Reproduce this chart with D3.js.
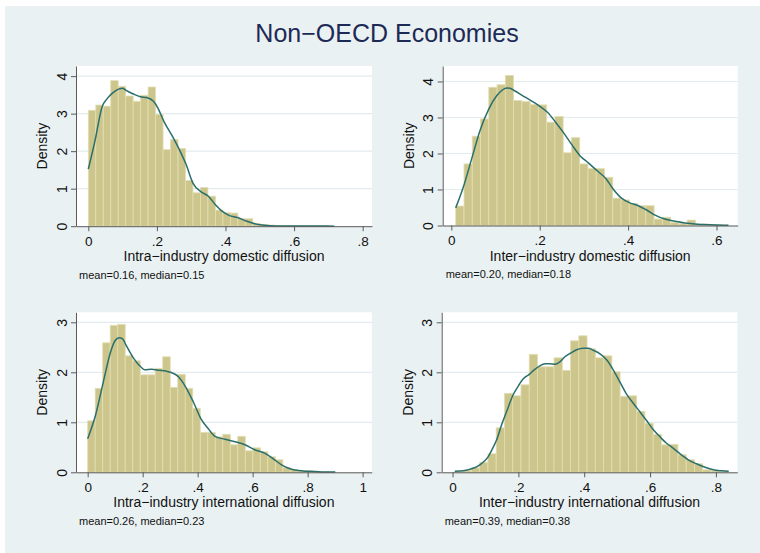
<!DOCTYPE html>
<html>
<head>
<meta charset="utf-8">
<script src="https://cdn.jsdelivr.net/npm/d3@7/dist/d3.min.js"></script>
<style>
  html, body { margin: 0; padding: 0; background: #ffffff; }
  svg { display: block; }
  text { font-family: "Liberation Sans", Arial, Helvetica, sans-serif; }
</style>
</head>
<body>
<svg id="chart" width="760" height="553"></svg>
<script>
// ---- Histogram densities (33 equal bins each) and kernel density curves ----

// Intra-industry domestic diffusion
const intraDomBinStart = 0.0;
const intraDomBinWidth = 0.0218;
const intraDomBars = [3.09, 3.23, 3.2, 3.88, 3.73, 3.47, 3.33, 3.49, 3.71, 2.98, 2.04, 2.31, 2.07,
  1.22, 0.89, 1.03, 0.8, 0.43, 0.36, 0.35, 0.2, 0.2, 0.07, 0.05, 0.03, 0.02, 0.015, 0.01, 0.01,
  0.008, 0.008, 0.006, 0.006];
const intraDomKdeX = [0, 0.02, 0.04, 0.055, 0.072, 0.09, 0.10, 0.11, 0.13, 0.152, 0.17, 0.19, 0.203,
  0.22, 0.245, 0.265, 0.285, 0.305, 0.328, 0.35, 0.37, 0.39, 0.41, 0.435, 0.46, 0.48, 0.50, 0.53,
  0.57, 0.62, 0.67, 0.717];
const intraDomKdeY = [1.52, 2.3, 3.18, 3.4, 3.56, 3.66, 3.68, 3.62, 3.53, 3.45, 3.43, 3.33, 3.15,
  2.8, 2.4, 2.05, 1.65, 1.15, 0.92, 0.8, 0.58, 0.4, 0.29, 0.23, 0.14, 0.08, 0.04, 0.015, 0.007,
  0.004, 0.003, 0.002];

// Inter-industry domestic diffusion
const interDomBinStart = 0.010;
const interDomBinWidth = 0.0187;
const interDomBars = [0.54, 1.71, 2.48, 2.96, 3.84, 3.91, 4.17, 3.47, 3.44, 3.36, 3.35, 2.87, 3.03,
  2.02, 2.44, 1.71, 1.58, 1.58, 1.34, 0.76, 0.71, 0.61, 0.55, 0.55, 0.18, 0.23, 0.08, 0.05, 0.15,
  0.04, 0.03, 0.02, 0.01];
const interDomKdeX = [0.010, 0.027, 0.046, 0.065, 0.085, 0.103, 0.114, 0.125, 0.133, 0.142, 0.161,
  0.180, 0.198, 0.217, 0.236, 0.255, 0.273, 0.291, 0.31, 0.33, 0.35, 0.367, 0.385, 0.404, 0.423,
  0.442, 0.461, 0.483, 0.506, 0.528, 0.551, 0.574, 0.60, 0.627];
const interDomKdeY = [0.49, 1.06, 1.85, 2.64, 3.24, 3.61, 3.75, 3.82, 3.81, 3.75, 3.61, 3.47, 3.33,
  3.15, 2.87, 2.56, 2.24, 1.94, 1.74, 1.52, 1.3, 1.0, 0.76, 0.63, 0.55, 0.43, 0.29, 0.18, 0.12,
  0.07, 0.045, 0.025, 0.012, 0.006];

// Intra-industry international diffusion
const intraIntBinStart = 0.0;
const intraIntBinWidth = 0.0273;
const intraIntBars = [1.03, 1.68, 2.59, 2.94, 2.96, 2.33, 2.23, 1.95, 1.95, 2.08, 2.31, 1.7, 1.96,
  1.68, 1.28, 0.8, 0.8, 0.71, 0.76, 0.55, 0.72, 0.43, 0.49, 0.41, 0.31, 0.25, 0.09, 0.05, 0.03,
  0.03, 0.02, 0.01, 0.01];
const intraIntKdeX = [0.0, 0.029, 0.057, 0.0835, 0.0993, 0.115, 0.127, 0.139, 0.166, 0.193, 0.208,
  0.232, 0.26, 0.287, 0.302, 0.330, 0.356, 0.384, 0.411, 0.439, 0.463, 0.499, 0.536, 0.572, 0.608,
  0.645, 0.675, 0.705, 0.736, 0.766, 0.802, 0.851, 0.9];
const intraIntKdeY = [0.67, 1.15, 1.81, 2.41, 2.63, 2.69, 2.67, 2.55, 2.29, 2.11, 2.05, 2.06, 2.04,
  2.02, 2.0, 1.91, 1.71, 1.41, 1.08, 0.87, 0.72, 0.66, 0.61, 0.55, 0.45, 0.38, 0.27, 0.15, 0.07,
  0.035, 0.02, 0.008, 0.004];

// Inter-industry international diffusion
const interIntBinStart = 0.007;
const interIntBinWidth = 0.0251;
const interIntBars = [0.02, 0.03, 0.09, 0.2, 0.37, 0.89, 1.58, 1.53, 1.75, 2.36, 2.11, 2.11, 2.29,
  2.04, 2.63, 2.73, 2.47, 2.29, 2.33, 2.01, 1.52, 1.53, 1.22, 0.98, 0.76, 0.55, 0.56, 0.35, 0.25,
  0.17, 0.05, 0.03, 0.02];
const interIntKdeX = [0.007, 0.032, 0.058, 0.083, 0.108, 0.124, 0.134, 0.149, 0.164, 0.184, 0.200,
  0.215, 0.233, 0.250, 0.265, 0.281, 0.296, 0.311, 0.326, 0.341, 0.360, 0.377, 0.397, 0.412, 0.428,
  0.448, 0.468, 0.488, 0.509, 0.529, 0.549, 0.569, 0.590, 0.610, 0.630, 0.650, 0.671, 0.691, 0.716,
  0.741, 0.767, 0.792, 0.818, 0.839];
const interIntKdeY = [0.02, 0.03, 0.07, 0.15, 0.31, 0.51, 0.65, 0.95, 1.21, 1.55, 1.73, 1.87, 1.96,
  2.06, 2.13, 2.17, 2.17, 2.16, 2.21, 2.31, 2.39, 2.45, 2.48, 2.48, 2.44, 2.37, 2.25, 2.05, 1.8,
  1.56, 1.38, 1.21, 1.03, 0.85, 0.71, 0.58, 0.48, 0.37, 0.25, 0.17, 0.1, 0.05, 0.03, 0.02];

// ---- Text and ticks ----
const chartTitle = "Non\u2212OECD Economies";
const xTitles = [
  "Intra\u2212industry domestic diffusion",
  "Inter\u2212industry domestic diffusion",
  "Intra\u2212industry international diffusion",
  "Inter\u2212industry international diffusion"
];
const notes = [
  "mean=0.16, median=0.15",
  "mean=0.20, median=0.18",
  "mean=0.26, median=0.23",
  "mean=0.39, median=0.38"
];
const xTicksIntraDom = [0, 0.2, 0.4, 0.6, 0.8];
const xTicksInterDom = [0, 0.2, 0.4, 0.6];
const xTicksIntraInt = [0, 0.2, 0.4, 0.6, 0.8, 1];
const xTicksInterInt = [0, 0.2, 0.4, 0.6, 0.8];
const yTicksDom = [0, 1, 2, 3, 4];
const yTicksInt = [0, 1, 2, 3];

// ---- Panel layout (plot regions in pixels, axis extents in data units) ----
const panels = [
  { bars: intraDomBars, start: intraDomBinStart, width: intraDomBinWidth,
    kx: intraDomKdeX, ky: intraDomKdeY, xTicks: xTicksIntraDom, yTicks: yTicksDom,
    title: xTitles[0], note: notes[0],
    box: { l: 76, r: 372, t: 66, b: 226.2 }, xDom: [-0.0359, 0.8272], yMax: 4.27 },
  { bars: interDomBars, start: interDomBinStart, width: interDomBinWidth,
    kx: interDomKdeX, ky: interDomKdeY, xTicks: xTicksInterDom, yTicks: yTicksDom,
    title: xTitles[1], note: notes[1],
    box: { l: 442.7, r: 737.7, t: 66, b: 225.5 }, xDom: [-0.0195, 0.648], yMax: 4.43 },
  { bars: intraIntBars, start: intraIntBinStart, width: intraIntBinWidth,
    kx: intraIntKdeX, ky: intraIntKdeY, xTicks: xTicksIntraInt, yTicks: yTicksInt,
    title: xTitles[2], note: notes[2],
    box: { l: 76, r: 371.7, t: 312.3, b: 472.3 }, xDom: [-0.0425, 1.033], yMax: 3.2 },
  { bars: interIntBars, start: interIntBinStart, width: interIntBinWidth,
    kx: interIntKdeX, ky: interIntKdeY, xTicks: xTicksInterInt, yTicks: yTicksInt,
    title: xTitles[3], note: notes[3],
    box: { l: 441.7, r: 737.3, t: 312.3, b: 472.3 }, xDom: [-0.033, 0.865], yMax: 3.2 }
];

const colors = {
  page: "#eaf1f3",
  plot: "#ffffff",
  grid: "#e2ebee",
  barFill: "#cdc68c",
  barStroke: "#e3deb3",
  kde: "#2a6f6c",
  axis: "#5a5a5a",
  text: "#111111",
  title: "#1d2a55"
};

const svg = d3.select("#chart");

// Graph region background
svg.append("rect")
  .attr("x", 5).attr("y", 6)
  .attr("width", 755).attr("height", 547)
  .attr("fill", colors.page);

svg.append("text")
  .attr("x", 387).attr("y", 42)
  .attr("text-anchor", "middle")
  .attr("font-size", 25)
  .attr("fill", colors.title)
  .text(chartTitle);

const fmtTick = d => d === 0 ? "0" : (d >= 1 ? String(d) : String(d).replace(/^0/, ""));

panels.forEach(p => {
  const { l, r, t, b } = p.box;
  const x = d3.scaleLinear().domain(p.xDom).range([l, r]);
  const y = d3.scaleLinear().domain([0, p.yMax]).range([b, t]);
  const g = svg.append("g");

  // plot region
  g.append("rect")
    .attr("x", l).attr("y", t)
    .attr("width", r - l).attr("height", b - t)
    .attr("fill", colors.plot);

  // horizontal grid lines
  g.selectAll("line.grid")
    .data(p.yTicks.filter(v => v > 0))
    .join("line")
    .attr("class", "grid")
    .attr("x1", l).attr("x2", r)
    .attr("y1", d => y(d)).attr("y2", d => y(d))
    .attr("stroke", colors.grid)
    .attr("stroke-width", 1.2);

  // histogram bars
  g.selectAll("rect.bar")
    .data(p.bars.map((v, i) => ({ x0: p.start + i * p.width, x1: p.start + (i + 1) * p.width, v })))
    .join("rect")
    .attr("class", "bar")
    .attr("x", d => x(d.x0))
    .attr("width", d => x(d.x1) - x(d.x0))
    .attr("y", d => y(d.v))
    .attr("height", d => y(0) - y(d.v))
    .attr("fill", colors.barFill)
    .attr("stroke", colors.barStroke)
    .attr("stroke-width", 0.8);

  // kernel density curve
  const line = d3.line()
    .x(d => x(d[0]))
    .y(d => y(d[1]))
    .curve(d3.curveMonotoneX);
  g.append("path")
    .datum(p.kx.map((v, i) => [v, p.ky[i]]))
    .attr("d", line)
    .attr("fill", "none")
    .attr("stroke", colors.kde)
    .attr("stroke-width", 1.5);

  // x axis
  const ax = g.append("g")
    .attr("transform", `translate(0,${b})`)
    .call(d3.axisBottom(x).tickValues(p.xTicks).tickFormat(fmtTick).tickSize(5).tickSizeOuter(0));
  ax.select(".domain").attr("stroke", colors.axis);
  ax.selectAll(".tick line").attr("stroke", colors.axis);
  ax.selectAll(".tick text")
    .attr("y", 19.5).attr("dy", 0)
    .attr("font-size", 13.5)
    .attr("font-family", "Liberation Sans, Arial, sans-serif")
    .attr("fill", colors.text);

  // y axis with vertical labels
  const ay = g.append("g")
    .attr("transform", `translate(${l},0)`)
    .call(d3.axisLeft(y).tickValues(p.yTicks).tickFormat(d3.format("d")).tickSize(5).tickSizeOuter(0));
  ay.select(".domain").attr("stroke", colors.axis);
  ay.selectAll(".tick line").attr("stroke", colors.axis);
  ay.selectAll(".tick text")
    .attr("transform", "rotate(-90)")
    .attr("x", 0).attr("y", -9.3).attr("dy", 0)
    .attr("text-anchor", "middle")
    .attr("font-size", 14)
    .attr("font-family", "Liberation Sans, Arial, sans-serif")
    .attr("fill", colors.text);

  // y title
  g.append("text")
    .attr("transform", `translate(${l - 28.7},${(t + b) / 2}) rotate(-90)`)
    .attr("text-anchor", "middle")
    .attr("font-size", 14)
    .attr("fill", colors.text)
    .text("Density");

  // x title
  g.append("text")
    .attr("x", (l + r) / 2).attr("y", b + 35)
    .attr("text-anchor", "middle")
    .attr("font-size", 14)
    .attr("fill", colors.text)
    .text(p.title);

  // summary note
  g.append("text")
    .attr("x", l + 3).attr("y", b + 52.5)
    .attr("font-size", 11)
    .attr("fill", colors.text)
    .text(p.note);
});
</script>
</body>
</html>
